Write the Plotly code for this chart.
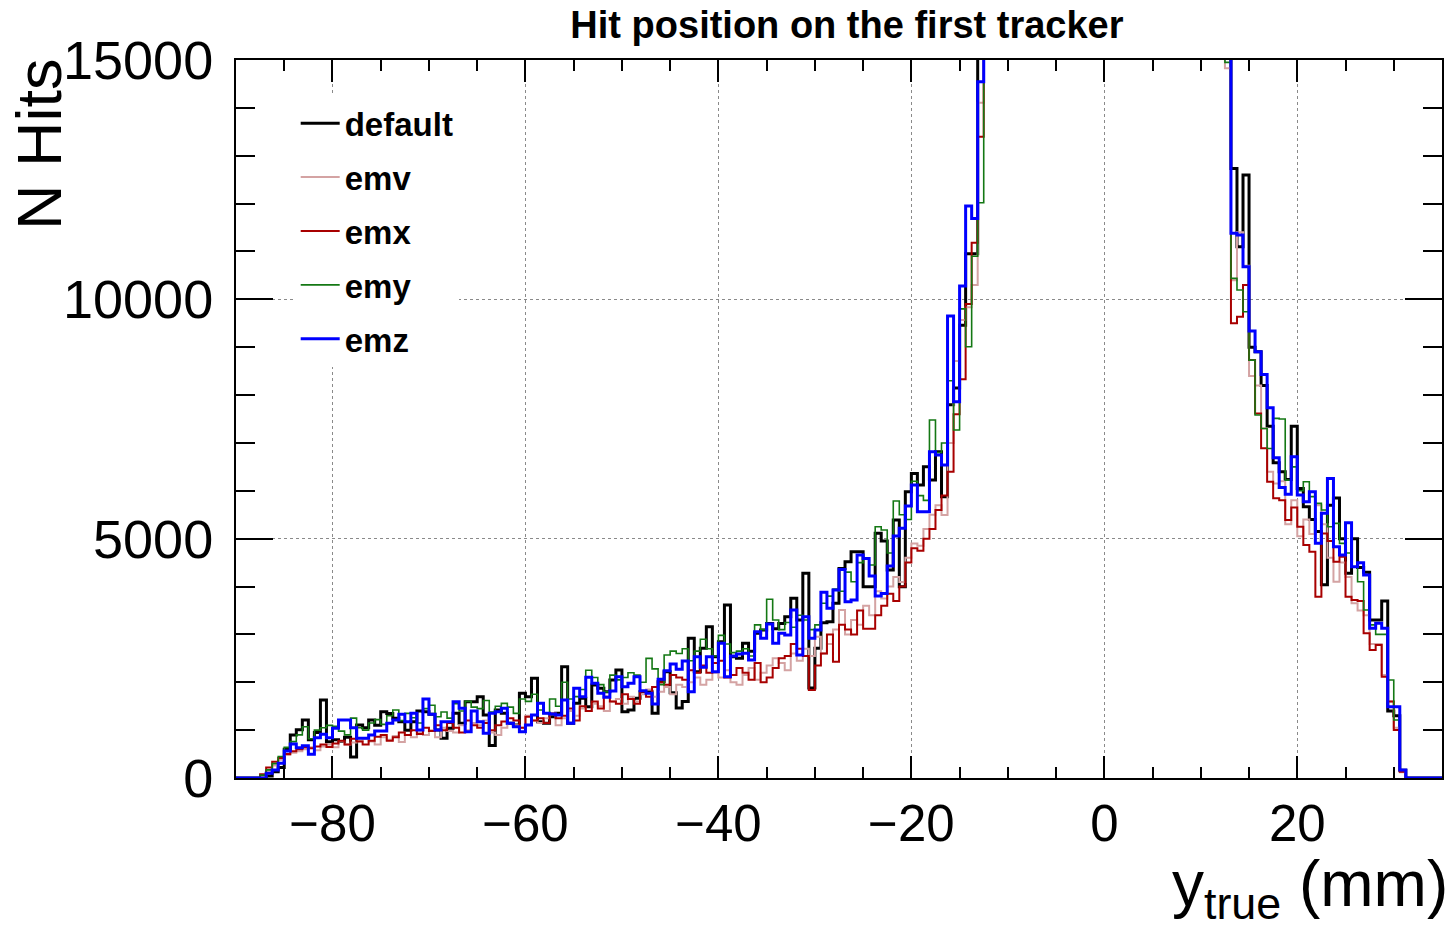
import numpy as np
import plotly.graph_objects as go

# Histogram binning: 200 bins of 0.625 mm between -90 and 35 mm
N_BINS, Y_LO, Y_HI = 200, -90.0, 35.0
edges = np.linspace(Y_LO, Y_HI, N_BINS + 1)

# Counts per bin. Bins 0-3 and 195-199 are empty.
# left_*  : bins 4..123   (-87.5 .. -12.5 mm)
# core    : bins 124..163 (saturated peak, above the plotted range)
# right_* : bins 164..194 (12.5 .. 31.875 mm)
left_default = [
    0, 40, 130, 220, 600, 900, 1010, 1212, 800, 950,
    1630, 755, 800, 760, 850, 439, 1107, 1050, 1212, 1100,
    1386, 1350, 1250, 1177, 1000, 1177, 1400, 1386, 1330, 1003,
    829, 1038, 1351, 1142, 1595, 1595, 1700, 1316, 680, 1420,
    1351, 1142, 1107, 1769, 1699, 2082, 1177, 1142, 1281, 1351,
    2326, 1142, 1560, 1664, 1490, 1943, 1873, 1804, 2047, 2256,
    1386, 1420, 1664, 1804, 1804, 1351, 2013, 2221, 1783, 1460,
    1600, 2918, 2221, 2709, 3162, 2535, 2848, 3614, 2535, 2500,
    2813, 2650, 3022, 3092, 3230, 3120, 3230, 3370, 3753, 3300,
    4275, 1880, 2709, 3245, 3265, 3650, 4379, 4518, 4727, 4727,
    3997, 3997, 5112, 4950, 4344, 5390, 3997, 5980, 6363, 6121,
    6503, 6225, 6817, 5877, 7800, 8150, 9460, 10950, 10950, 15800,
]
left_emv = [
    40, 150, 260, 380, 480, 530, 560, 600, 640, 580,
    660, 700, 640, 760, 700, 740, 780, 820, 760, 700,
    850, 800, 880, 750, 900, 850, 950, 900, 1000, 850,
    1050, 980, 950, 1100, 1000, 1150, 1100, 1200, 950, 900,
    1050, 1150, 1100, 1050, 1300, 1200, 1150, 1250, 1350, 1100,
    1250, 1400, 1300, 1450, 1400, 1550, 1500, 1400, 1600, 1650,
    1550, 1700, 1600, 1750, 1850, 1700, 1800, 1900, 1750, 1950,
    1900, 2000, 2100, 1950, 2050, 2200, 2100, 2250, 2000, 1950,
    2150, 2300, 2050, 2200, 2350, 2500, 2400, 2250, 2600, 2450,
    2700, 2550, 2950, 2600, 2800, 3100, 3510, 3000, 3300, 3200,
    3600, 3400, 3900, 3750, 4000, 4200, 4094, 4600, 4900, 4850,
    5200, 5500, 5700, 5492, 7000, 8711, 9568, 9832, 10300, 14107,
]
left_emx = [
    80, 220, 340, 420, 500, 560, 600, 640, 620, 660,
    700, 650, 720, 780, 700, 820, 760, 700, 780, 860,
    900, 780, 850, 950, 900, 1000, 920, 1050, 980, 1100,
    1000, 1150, 1050, 950, 1200, 1100, 1050, 1150, 1000, 1100,
    1180, 1250, 1200, 1050, 1280, 1200, 1250, 1150, 1350, 1250,
    1300, 1450, 1200, 1500, 1400, 1600, 1450, 1700, 1600, 1550,
    1750, 1650, 1550, 1800, 1700, 1900, 2000, 1950, 2150, 2100,
    2050, 2250, 2200, 2350, 2200, 2400, 2450, 2100, 2150, 2300,
    2200, 2050, 2400, 2000, 2100, 2300, 2500, 2550, 2800, 2700,
    2550, 1840, 2350, 2600, 3000, 2430, 3200, 3100, 3000, 3500,
    3120, 3120, 3400, 3600, 3850, 3700, 4000, 4500, 4800, 4750,
    5000, 5200, 5600, 5900, 6400, 7600, 8330, 9900, 11180, 13397,
]
left_emy = [
    60, 170, 300, 450, 640, 760, 900, 1072, 820, 1000,
    1050, 1100, 1080, 980, 900, 1250, 1050, 1000, 1150, 1220,
    1120, 1300, 1420, 1200, 1350, 1260, 1150, 1450, 1520, 1280,
    1380, 1250, 1550, 1400, 1600, 1480, 1450, 1620, 1380, 1500,
    1560, 1480, 1350, 1650, 1600, 1750, 1420, 1350, 1650, 1500,
    2000, 1650, 1700, 1850, 2250, 2100, 1950, 1800, 2150, 2050,
    2100, 2200, 2150, 2000, 2500, 2280, 1950, 2570, 2650, 2600,
    2700, 2450, 2650, 2900, 2700, 2550, 2980, 2800, 2620, 2650,
    2700, 2550, 3200, 3100, 3735, 3300, 3100, 3250, 3150, 3400,
    3300, 3100, 3200, 3650, 3800, 3950, 3900, 4300, 4100, 4500,
    4600, 4450, 5250, 5180, 4700, 5787, 5500, 5400, 6200, 5900,
    5800, 7479, 6800, 7000, 8300, 7270, 9800, 9010, 10900, 12018,
]
left_emz = [
    0, 97, 167, 306, 564, 710, 634, 676, 494, 843,
    913, 843, 1038, 1212, 1212, 1052, 829, 829, 899, 982,
    982, 1142, 1212, 1330, 1177, 1351, 1003, 1651, 1330, 1003,
    1177, 1177, 1595, 1456, 968, 1400, 1177, 933, 1351, 1386,
    1456, 1142, 1072, 968, 1107, 1316, 1560, 1351, 1337, 1316,
    1630, 1142, 1873, 1699, 2103, 1978, 1769, 1685, 1818, 2117,
    1908, 1978, 2117, 1825, 1769, 1546, 2061, 2242, 2382, 2270,
    2444, 1804, 2535, 2312, 2535, 2221, 2813, 2117, 2549, 2591,
    2605, 2465, 3057, 2918, 3217, 2813, 3022, 2987, 3510, 2570,
    3370, 2918, 3092, 3878, 3545, 3927, 4358, 3684, 3718, 4658,
    4588, 4220, 3802, 3857, 4429, 5056, 5216, 5682, 6121, 5564,
    5564, 6817, 6747, 6538, 9651, 7862, 10278, 11950, 11691, 14546,
]

core_counts = [
    17800, 19500, 21400, 23600, 25800, 28300, 30900, 33200, 35800, 38100,
    40200, 42100, 43900, 45200, 46300, 47200, 47900, 48300, 48600, 48700,
    48600, 48400, 48000, 47300, 46400, 45200, 43800, 42100, 40000, 37800,
    35200, 32600, 29800, 27100, 24500, 22000, 19900, 18200, 16900, 16100,
]

right_default = [16500, 12735, 11100, 12596, 9000, 8906, 8200, 7350, 6585, 6400,
                 6237, 7347, 6050, 5665, 5400, 5150, 4035, 5700, 5850, 5000,
                 4275, 5000, 4400, 4300, 3300, 3300, 3700, 1400, 1300, 160, 0]
right_emv = [14830, 10400, 11400, 10700, 8400, 8200, 7300, 6400, 6150, 6200,
             5300, 5800, 5050, 5400, 5100, 5700, 5300, 4600, 4100, 4500,
             4200, 3650, 3500, 3400, 2800, 2800, 2150, 1600, 1050, 120, 0]
right_emx = [16000, 9500, 9637, 10300, 8731, 7616, 6887, 6190, 5843, 5800,
             5390, 5650, 5250, 4867, 4727, 3789, 5110, 4950, 4519, 4623,
             3789, 3720, 3700, 3023, 2674, 2778, 2117, 1600, 1003, 130, 0]
right_emy = [14950, 10438, 10194, 9741, 8731, 7582, 7300, 6885, 7514, 7500,
             6224, 6500, 6000, 6190, 5878, 5738, 5600, 5250, 5320, 4902,
             4700, 4414, 4100, 3510, 3200, 3000, 3000, 2046, 1212, 167, 0]
right_emz = [16500, 11379, 11344, 10681, 9338, 8906, 8430, 7734, 6689, 6070,
             5930, 6712, 5911, 5772, 5981, 4902, 5529, 6259, 4832, 4658,
             5334, 4414, 4498, 4241, 3127, 3231, 3127, 1490, 1490, 167, 0]


def assemble(left, right):
    counts = [0] * 4 + left + core_counts + right + [0] * 5
    assert len(counts) == N_BINS, len(counts)
    return counts


series = [
    ("default", assemble(left_default, right_default), "#000000", 3.0),
    ("emv", assemble(left_emv, right_emv), "#d4a3a3", 2.0),
    ("emx", assemble(left_emx, right_emx), "#a80000", 2.0),
    ("emy", assemble(left_emy, right_emy), "#147814", 1.6),
    ("emz", assemble(left_emz, right_emz), "#0000ff", 3.0),
]

fig = go.Figure()
for name, counts, color, width in series:
    fig.add_trace(go.Scatter(
        x=edges, y=counts + [counts[-1]],
        mode="lines", line=dict(shape="hv", color=color, width=width),
        name=name, legendgroup=name,
    ))

FONT = "Liberation Sans"
axis_common = dict(
    ticks="inside", tickwidth=2, tickcolor="black",
    showline=True, linewidth=2, linecolor="black", mirror="ticks",
    showgrid=True, gridcolor="#8a8a8a", griddash="dot", gridwidth=1,
    zeroline=False,
)
fig.update_xaxes(range=[Y_LO, Y_HI], tick0=0, dtick=20, ticklen=22,
                 tickfont=dict(family=FONT, size=51, color="black"),
                 minor=dict(dtick=5, ticklen=11, ticks="inside", tickwidth=2,
                            tickcolor="black", showgrid=False),
                 **axis_common)
fig.update_yaxes(range=[0, 15000], tick0=0, dtick=5000, ticklen=37, tickformat="d",
                 tickfont=dict(family=FONT, size=54, color="black"),
                 ticklabelstandoff=10,
                 minor=dict(dtick=1000, ticklen=19, ticks="inside", tickwidth=2,
                            tickcolor="black", showgrid=False),
                 **axis_common)

fig.update_layout(
    width=1449, height=929,
    margin=dict(l=236, r=5, t=60, b=151),
    paper_bgcolor="white", plot_bgcolor="white",
    font=dict(family=FONT, color="black"),
    title=dict(text="Hit position on the first tracker", xref="paper", x=0.5066,
               xanchor="center", y=0.973, yanchor="middle",
               font=dict(family=FONT, size=38, weight="bold", color="black")),
    legend=dict(x=0.0495, y=0.951, xanchor="left", yanchor="top",
                bgcolor="white", borderwidth=0, tracegroupgap=8,
                itemwidth=39,
                font=dict(family=FONT, size=33, weight="bold", color="black")),
    annotations=[
        dict(text="y<sub>true</sub> (mm)", xref="paper", yref="paper",
             x=1.0066, y=-0.153, xanchor="right", yanchor="middle", showarrow=False,
             font=dict(family=FONT, size=64, color="black")),
        dict(text="N Hits", xref="paper", yref="paper", textangle=-90,
             x=-0.164, y=1.006, xanchor="center", yanchor="top", showarrow=False,
             font=dict(family=FONT, size=63, color="black")),
    ],
)

fig.write_html("out.html")
